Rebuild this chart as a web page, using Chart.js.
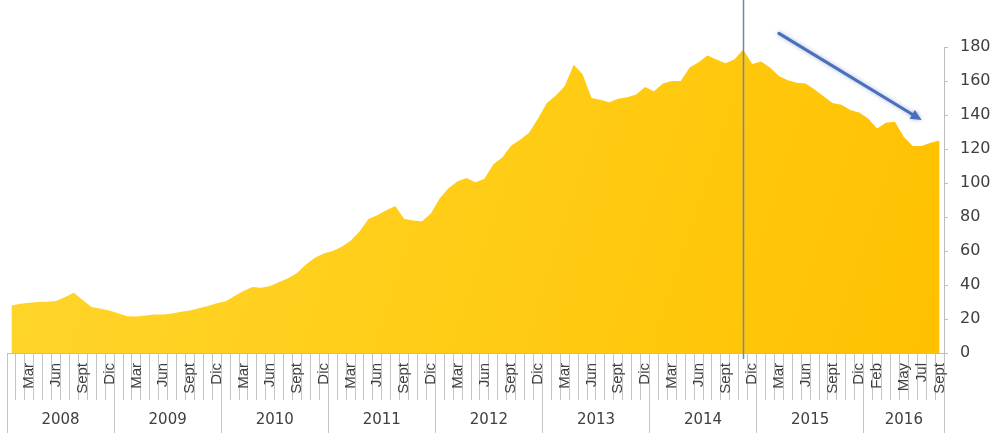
<!DOCTYPE html>
<html><head><meta charset="utf-8">
<script src="https://cdn.jsdelivr.net/npm/chart.js@4.4.1/dist/chart.umd.min.js"></script>
<style>html,body{margin:0;padding:0;background:#fff;overflow:hidden}#wrap{width:992px;height:433px;position:relative}</style>
</head><body><div id="wrap"><canvas id="c"></canvas></div>
<script>
// ---- data ----
const years = ['2008','2009','2010','2011','2012','2013','2014','2015','2016'];
const monthNames = ['Ene','Feb','Mar','Abr','May','Jun','Jul','Ago','Sept','Oct','Nov','Dic'];
const monthsShown = ['Mar','Jun','Sept','Dic'];
const monthsShown2016 = ['Feb','May','Jul','Sept'];
const v2008 = [28,29,29.5,30,30.2,30.6,33,35.5,31,27,26,25];
const v2009 = [23.3,21.6,21.5,22,22.7,22.7,23.3,24.2,25,26.3,27.6,29.3];
const v2010 = [30.5,33.5,36.5,38.8,38.4,39.4,41.8,44,47,52,56,58.5];
const v2011 = [60,62.5,66,71.5,78.8,81,84,86.5,79,78,77.5,82];
const v2012 = [91,97,101,103,100.5,102.5,111,115,122,125.5,129.5,138];
const v2013 = [147,151.5,157,169.5,164,150,149,147.5,149.5,150.5,152,156.5];
const v2014 = [154,158.5,160,160,168,171,175,172.7,170.5,172.7,178.6,170];
const v2015 = [171.5,168,163,160.5,159,158.5,155,151,147,146,143,141.5];
const v2016 = [138,132,135.5,136,127,121.8,121.8,123.7,125];
const yearValues = [v2008,v2009,v2010,v2011,v2012,v2013,v2014,v2015,v2016];
const yMin = 0, yMax = 180, yStep = 20;
const markerMonth = '2014 Nov';
const trendArrow = { fromMonth: '2015 Mar', fromValue: 188, toMonth: '2016 Jul', toValue: 137 };

// ---- derived ----
const keys = [], labels = [], shown = [], values = [];
const yearStart = [];
yearValues.forEach((arr, yi) => {
  yearStart.push(keys.length);
  const show = years[yi] === '2016' ? monthsShown2016 : monthsShown;
  arr.forEach((v, mi) => {
    keys.push(years[yi] + ' ' + monthNames[mi]);
    labels.push(monthNames[mi]);
    shown.push(show.includes(monthNames[mi]));
    values.push(v);
  });
});
const total = keys.length;
const boundaries = yearStart.concat([total]);
const yearMid = new Map();
years.forEach((y, i) => yearMid.set((boundaries[i] + boundaries[i+1]) / 2, y));
const isBoundary = new Set(boundaries);

const decor = {
  id: 'decor',
  afterDatasetsDraw(chart) {
    const {ctx, chartArea, scales} = chart;
    const x = scales.x, y = scales.y;
    // vertical marker
    const mx = Math.round(x.getPixelForValue(keys.indexOf(markerMonth))) + 0.5;
    ctx.save();
    ctx.strokeStyle = '#6f87b3';
    ctx.lineWidth = 1.5;
    ctx.beginPath();
    ctx.moveTo(mx, 0);
    ctx.lineTo(mx, chartArea.bottom + 6);
    ctx.stroke();
    // trend arrow
    const x1 = x.getPixelForValue(keys.indexOf(trendArrow.fromMonth));
    const y1 = y.getPixelForValue(trendArrow.fromValue);
    const x2 = x.getPixelForValue(keys.indexOf(trendArrow.toMonth));
    const y2 = y.getPixelForValue(trendArrow.toValue);
    const ang = Math.atan2(y2 - y1, x2 - x1);
    const head = 11, hw = 5;
    ctx.shadowColor = 'rgba(60,90,160,0.45)';
    ctx.shadowBlur = 4;
    ctx.strokeStyle = '#4a70bd';
    ctx.fillStyle = '#4a70bd';
    ctx.lineWidth = 3;
    ctx.lineCap = 'round';
    ctx.beginPath();
    ctx.moveTo(x1, y1);
    ctx.lineTo(x2 - Math.cos(ang) * head * 0.8, y2 - Math.sin(ang) * head * 0.8);
    ctx.stroke();
    ctx.beginPath();
    ctx.moveTo(x2, y2);
    ctx.lineTo(x2 - Math.cos(ang) * head - Math.sin(ang) * hw, y2 - Math.sin(ang) * head + Math.cos(ang) * hw);
    ctx.lineTo(x2 - Math.cos(ang) * head + Math.sin(ang) * hw, y2 - Math.sin(ang) * head - Math.cos(ang) * hw);
    ctx.closePath();
    ctx.fill();
    ctx.restore();
  }
};

new Chart(document.getElementById('c'), {
  type: 'line',
  data: {
    labels: labels,
    datasets: [{
      data: values,
      fill: 'origin',
      borderWidth: 0,
      pointRadius: 0,
      tension: 0,
      backgroundColor: (ctx) => {
        const ca = ctx.chart.chartArea;
        if (!ca) return '#ffc90e';
        const g = ctx.chart.ctx.createLinearGradient(ca.left, ca.top, ca.right, ca.bottom);
        g.addColorStop(0, '#ffd62e');
        g.addColorStop(0.6, '#ffcb12');
        g.addColorStop(1, '#ffc000');
        return g;
      }
    }]
  },
  options: {
    responsive: true,
    maintainAspectRatio: false,
    animation: false,
    devicePixelRatio: 1,
    layout: { padding: { top: 47, left: 7, right: 0, bottom: 0 } },
    plugins: { legend: { display: false }, tooltip: { enabled: false } },
    scales: {
      x: {
        type: 'category',
        position: 'bottom',
        weight: 0,
        offset: true,
        grid: { display: true, drawOnChartArea: false, offset: true, tickLength: 47, color: '#c4c4c4', lineWidth: 1 },
        border: { display: true, color: '#bdbdbd' },
        ticks: {
          autoSkip: false, minRotation: 90, maxRotation: 90, padding: -37,
          color: '#404040', font: { family: 'Liberation Sans', size: 15 },
          callback: function(value, index) { return shown[index] ? labels[index] : ''; }
        },
        afterFit: (s) => { s.height = 47; }
      },
      x2: {
        type: 'linear',
        position: 'bottom',
        weight: 1,
        min: 0, max: total,
        afterBuildTicks: (s) => {
          const vals = boundaries.concat(Array.from(yearMid.keys())).sort((a, b) => a - b);
          s.ticks = vals.map(v => ({ value: v }));
        },
        grid: {
          display: true, drawOnChartArea: false, tickLength: 33, lineWidth: 1,
          color: (c) => (c.tick && isBoundary.has(c.tick.value)) ? '#c4c4c4' : 'rgba(0,0,0,0)'
        },
        border: { display: false },
        ticks: {
          autoSkip: false, maxRotation: 0, minRotation: 0, padding: -22,
          color: '#404040', font: { family: 'DejaVu Sans', size: 15 },
          callback: (v) => yearMid.get(v) || ''
        },
        afterFit: (s) => { s.height = 33; }
      },
      y: {
        position: 'right',
        min: yMin, max: yMax,
        ticks: { stepSize: yStep, padding: 12, color: '#404040', font: { family: 'DejaVu Sans', size: 16 } },
        grid: { drawOnChartArea: false, tickLength: 4, color: '#bdbdbd' },
        border: { display: true, color: '#bdbdbd' },
        afterFit: (s) => { s.width = 48; }
      }
    }
  },
  plugins: [decor]
});
</script>
</body></html>
